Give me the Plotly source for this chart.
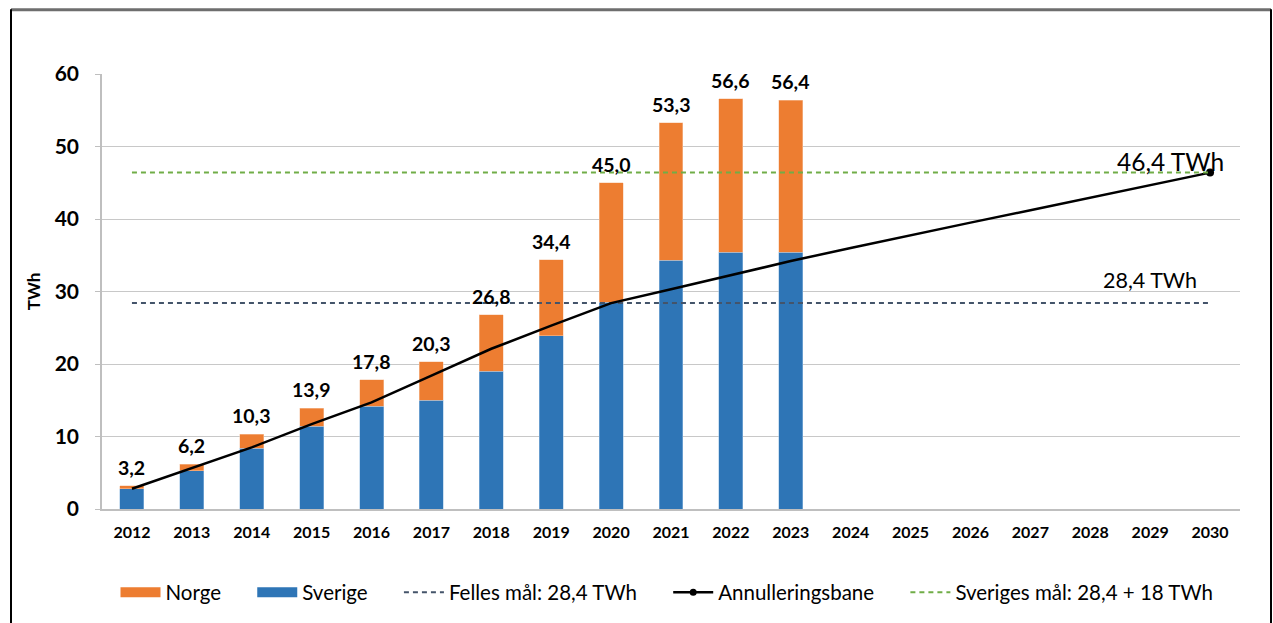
import plotly.graph_objects as go

years = [str(y) for y in range(2012, 2031)]
bar_years = [str(y) for y in range(2012, 2024)]
sverige = [2.8, 5.3, 8.4, 11.4, 14.2, 15.0, 19.0, 23.9, 28.5, 34.3, 35.4, 35.4]
totals = [3.2, 6.2, 10.3, 13.9, 17.8, 20.3, 26.8, 34.4, 45.0, 53.3, 56.6, 56.4]
norge = [round(t - s, 2) for t, s in zip(totals, sverige)]
annullering = [2.8, 5.7, 8.5, 11.7, 14.7, 18.4, 22.1, 25.3, 28.4, 30.3, 32.3, 34.2,
               36.0, 37.8, 39.5, 41.2, 42.9, 44.7, 46.4]
felles_maal = 28.4
sveriges_maal = 46.4

ORANGE = "#ED7D31"
BLUE = "#2E75B6"
FONT = "Lato"
PAD = "\u00a0" * 5

fig = go.Figure()
fig.add_trace(go.Bar(x=bar_years, y=sverige, name="Sverige", marker_color=BLUE, showlegend=False,
                     marker_line=dict(color="#9DC3E6", width=0.5), width=0.4))
fig.add_trace(go.Bar(x=bar_years, y=norge, name="Norge", marker_color=ORANGE, showlegend=False,
                     marker_line=dict(color="#F8CBAD", width=0.5), width=0.4))
# legend swatches for the bars
fig.add_trace(go.Scatter(x=[None], y=[None], mode="lines", name="Norge" + PAD, legendrank=1,
                         line=dict(color=ORANGE, width=14)))
fig.add_trace(go.Scatter(x=[None], y=[None], mode="lines", name="Sverige" + PAD, legendrank=2,
                         line=dict(color=BLUE, width=14)))
fig.add_trace(go.Scatter(x=years, y=[felles_maal] * len(years), mode="lines",
                         name="Felles mål: 28,4 TWh" + PAD, legendrank=3,
                         line=dict(color="#44546A", width=2, dash="5px,4px")))
fig.add_trace(go.Scatter(x=years, y=annullering, mode="lines", showlegend=False,
                         line=dict(color="black", width=2.5)))
fig.add_trace(go.Scatter(x=years[-1:], y=annullering[-1:], mode="markers", showlegend=False,
                         marker=dict(color="black", size=8)))
fig.add_trace(go.Scatter(x=[None], y=[None], mode="lines+markers", name="Annulleringsbane" + PAD,
                         legendrank=4, line=dict(color="black", width=2.5),
                         marker=dict(color="black", size=7)))
fig.add_trace(go.Scatter(x=years, y=[sveriges_maal] * len(years), mode="lines",
                         name="Sveriges mål: 28,4 + 18 TWh", legendrank=5,
                         line=dict(color="#70AD47", width=2, dash="5px,4px")))

annotations = []
for yr, t in zip(bar_years, totals):
    annotations.append(dict(x=years.index(yr), y=t, xref="x", yref="y",
                            text=f"{t:.1f}".replace(".", ","), showarrow=False,
                            yanchor="bottom", yshift=5,
                            font=dict(family=FONT, size=19.5, color="black", weight="bold")))
annotations.append(dict(x=len(years) - 2, y=felles_maal, xref="x", yref="y", text="28,4 TWh",
                        showarrow=False, yanchor="bottom", yshift=8,
                        font=dict(family=FONT, size=21.5, color="black")))
annotations.append(dict(x=len(years) - 1, y=sveriges_maal, xref="x", yref="y", text="46,4 TWh",
                        showarrow=False, xanchor="center", xshift=-40, yanchor="bottom", yshift=-5,
                        font=dict(family=FONT, size=24.5, color="black")))

W, H = 1273, 623
L, R, T, B = 102, 33, 74, 112.5
pw, ph = W - L - R, H - T - B
def px_x(p): return (p - L) / pw
def px_y(p): return (H - B - p) / ph

shapes = [
    dict(type="line", xref="paper", yref="paper", x0=px_x(11), x1=px_x(1271),
         y0=px_y(9.5), y1=px_y(9.5), line=dict(color="#6E6E6E", width=3)),
    dict(type="line", xref="paper", yref="paper", x0=px_x(11), x1=px_x(11),
         y0=px_y(9), y1=px_y(640), line=dict(color="black", width=2)),
    dict(type="line", xref="paper", yref="paper", x0=px_x(1271), x1=px_x(1271),
         y0=px_y(9), y1=px_y(640), line=dict(color="black", width=2)),
]

fig.update_layout(
    width=W, height=H, autosize=False,
    margin=dict(l=L, r=R, t=T, b=B),
    barmode="stack", bargap=0.6,
    plot_bgcolor="white", paper_bgcolor="white",
    font=dict(family=FONT, color="black"),
    annotations=annotations, shapes=shapes,
    legend=dict(orientation="h", x=px_x(667), y=px_y(593), xanchor="center", yanchor="middle",
                font=dict(family=FONT, size=20.5, color="black"), traceorder="normal",
                itemwidth=40),
    showlegend=True,
)
fig.update_xaxes(type="category", categoryorder="array", categoryarray=years,
                 range=[-0.5, len(years) - 0.5],
                 showline=True, linecolor="#BFBFBF", linewidth=1.5, ticks="",
                 ticklabelstandoff=8,
                 tickfont=dict(family=FONT, size=16, color="black", weight="bold"),
                 showgrid=False)
fig.update_yaxes(range=[0, 60], dtick=10, showline=True, linecolor="#BFBFBF", linewidth=1.5,
                 ticks="outside", ticklen=5, tickcolor="#BFBFBF", ticklabelstandoff=12,
                 gridcolor="#C8C8C8", gridwidth=1.2, zeroline=False,
                 tickfont=dict(family=FONT, size=21, color="black", weight="bold"),
                 title=dict(text="TWh", font=dict(family=FONT, size=17, color="black", weight="bold"),
                            standoff=10))

fig.write_html("out.html", config={"displayModeBar": False},
               post_script="document.body.style.margin='0';document.body.style.overflow='hidden';")
